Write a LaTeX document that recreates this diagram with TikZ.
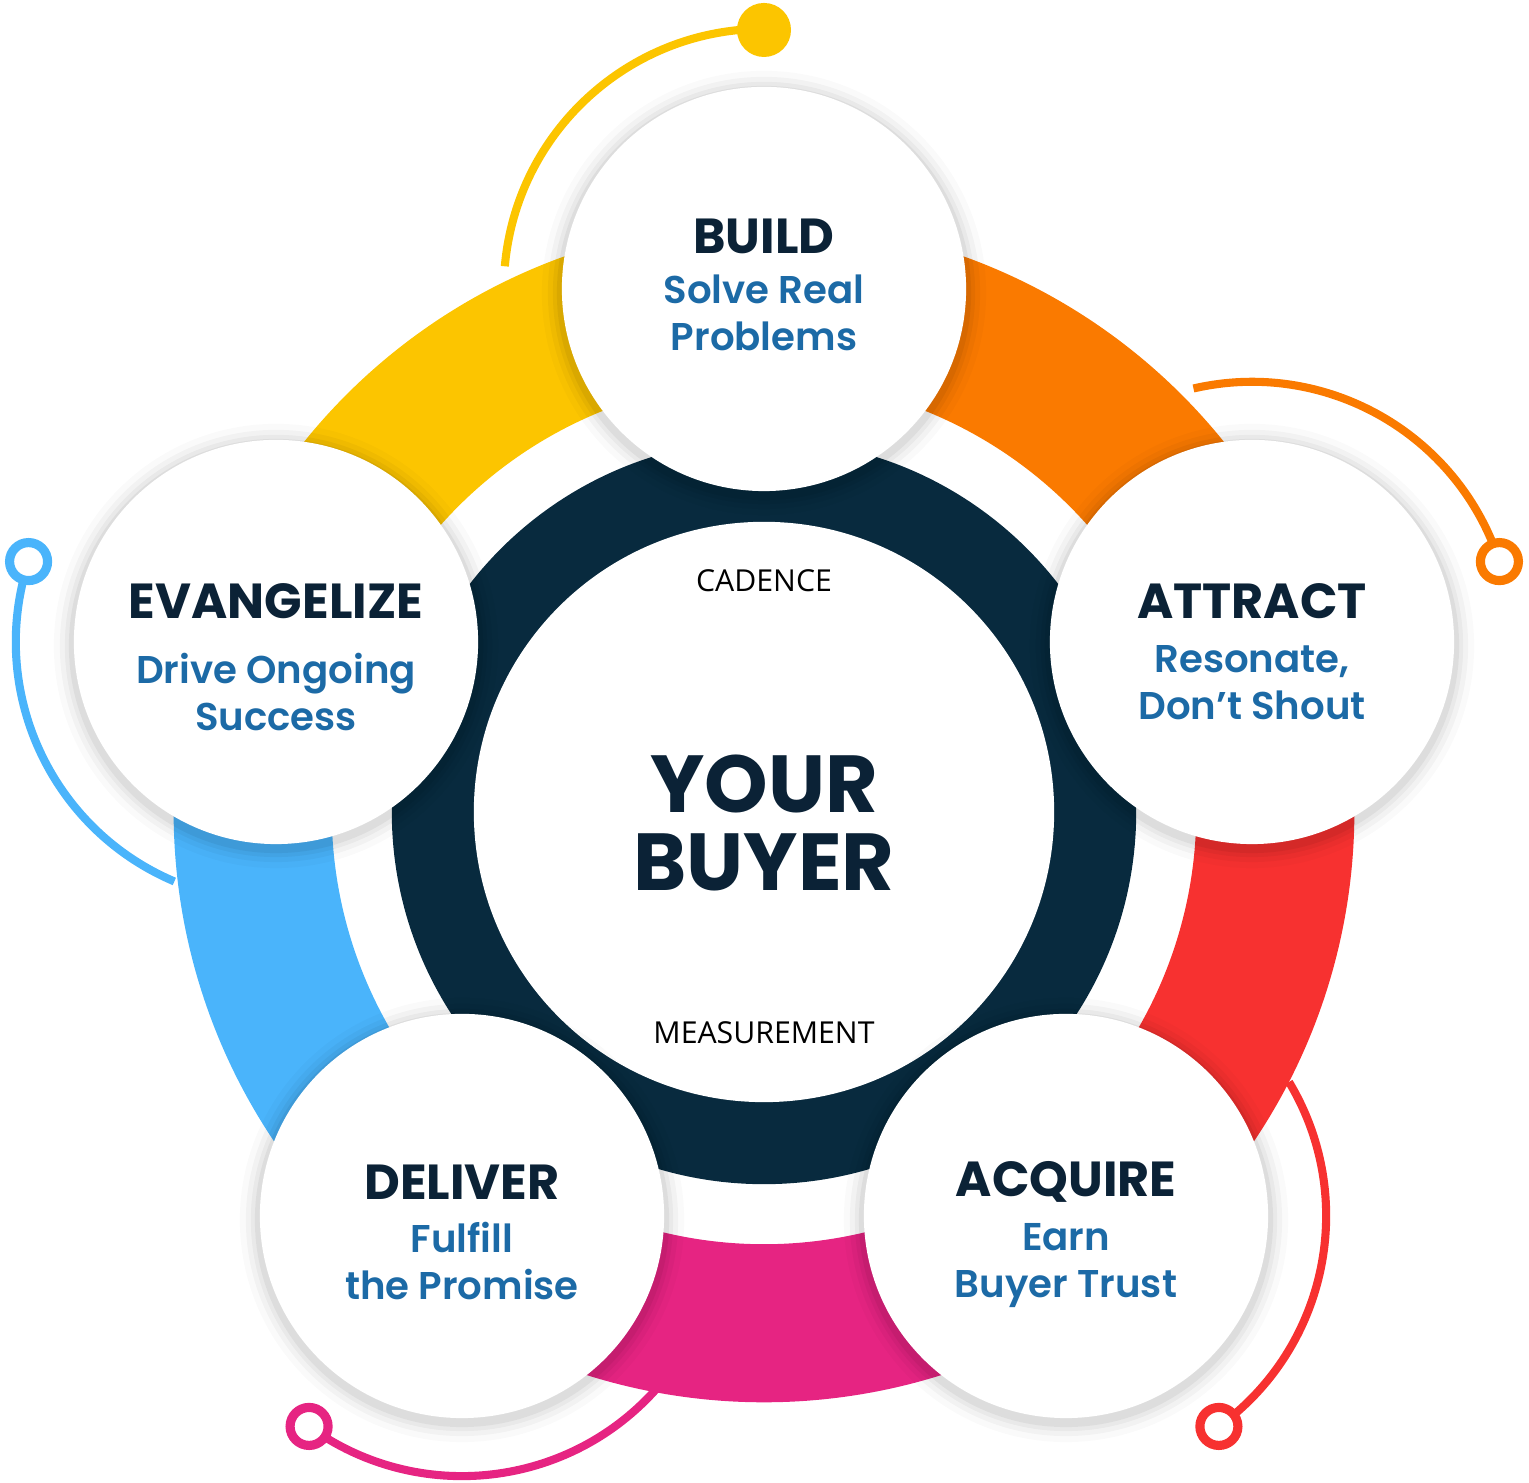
\documentclass[tikz,border=0pt]{standalone}
\usepackage{fontspec}
\setmainfont{Poppins}
\newfontfamily\plainf{Open Sans}
\usetikzlibrary{calc}
\definecolor{navy}{HTML}{082A3E}
\definecolor{cyel}{HTML}{FCC500}
\definecolor{cora}{HTML}{FA7A00}
\definecolor{cred}{HTML}{F73130}
\definecolor{cpink}{HTML}{E62482}
\definecolor{cblue}{HTML}{4AB4FB}
\definecolor{subblue}{HTML}{1C6AA6}
\definecolor{tdark}{HTML}{0B2236}
\tikzset{
 ttl/.style={font=\bfseries\fontsize{14pt}{16pt}\selectfont,text=tdark},
 sub/.style={font=\fontspec{Poppins SemiBold}\fontsize{11pt}{13.4pt}\selectfont,text=subblue,align=center},
 handle/.style={line width=2.3pt},
 stage/.style={circle,fill=white,minimum size=4.04cm,inner sep=0pt},
}
\begin{document}
\begin{tikzpicture}[x=0.01cm,y=0.01cm]
\useasboundingbox (0,0) rectangle (1529,1483);
\coordinate (C) at (764,671);
% handles
\foreach \cx/\cy/\a/\col in {764/1194/90/cyel,1252/841/18/cora,1066/267/-54/cred,462/267/-126/cpink,276/841/162/cblue}{
  \draw[handle,\col] ($(\cx,\cy)+(\a+85:2.6cm)$) arc[start angle=\a+85,end angle=\a,radius=2.6cm];
}
% ring segments
\foreach \a/\b/\col in {90/162/cyel,18/90/cora,-54/18/cred,-126/-54/cpink,162/234/cblue}{
  \fill[\col] ($(C)+(\a:5.9cm)$) arc[start angle=\a,end angle=\b,radius=5.9cm] -- ($(C)+(\b:4.32cm)$) arc[start angle=\b,end angle=\a,radius=4.32cm] -- cycle;
}
% dots
\fill[cyel] (764,1453) circle[radius=0.27cm];
\foreach \cx/\cy/\a/\col in {1252/841/18/cora,1066/267/-54/cred,462/267/-126/cpink,276/841/162/cblue}{
  \draw[line width=2.6pt,\col,fill=white] ($(\cx,\cy)+(\a:2.6cm)$) circle[radius=0.19cm];
}
% centre
\fill[navy] (C) circle[radius=3.72cm];
\node[circle,fill=white,minimum size=5.8cm,inner sep=0pt] (core) at (C) {};
\node[font=\bfseries\fontsize{23pt}{22pt}\selectfont,text=tdark,align=center] (buyer) at (764,660) {YOUR\\BUYER};
\node[font=\plainf\fontsize{8.6pt}{10pt}\selectfont] (cad) at (764,902) {CADENCE};
\node[font=\plainf\fontsize{8.6pt}{10pt}\selectfont] (meas) at (764,450) {MEASUREMENT};
% circles with soft shadow
\foreach \cx/\cy in {764/1194,1252/841,1066/267,462/267,276/841}{
  \foreach \r/\o in {2.22/0.02,2.16/0.03,2.11/0.04,2.07/0.05}{\fill[black,opacity=\o] (\cx,\cy-4) circle[radius=\r cm];}
}
\node[stage] (build) at (764,1194) {};
\node[stage] (attract) at (1252,841) {};
\node[stage] (acquire) at (1066,267) {};
\node[stage] (deliver) at (462,267) {};
\node[stage] (evang) at (276,841) {};
% texts
\node[ttl] at ($(build)+(0,53)$) {BUILD};
\node[sub] at ($(build)+(0,-24)$) {Solve Real\\Problems};
\node[ttl] at ($(attract)+(0,41)$) {ATTRACT};
\node[sub] at ($(attract)+(0,-41)$) {Resonate,\\Don’t Shout};
\node[ttl] at ($(evang)+(0,41)$) {EVANGELIZE};
\node[sub] at ($(evang)+(0,-50)$) {Drive Ongoing\\Success};
\node[ttl] at ($(deliver)+(0,34)$) {DELIVER};
\node[sub] at ($(deliver)+(0,-45)$) {Fulfill\\the Promise};
\node[ttl] at ($(acquire)+(0,34)$) {ACQUIRE};
\node[sub] at ($(acquire)+(0,-50)$) {Earn\\Buyer Trust};
\end{tikzpicture}
\end{document}
